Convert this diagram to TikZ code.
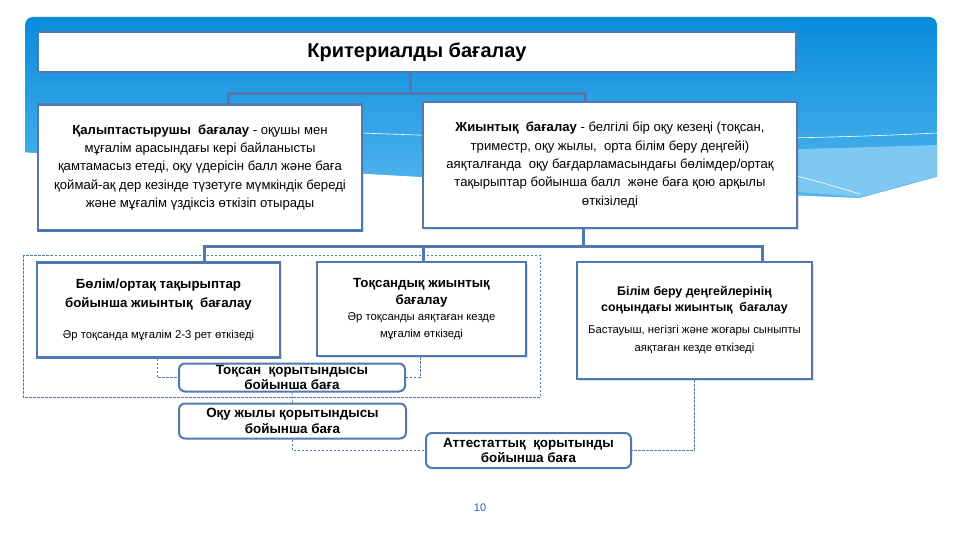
\documentclass[tikz,border=0pt]{standalone}
\usepackage{fontspec}
\setmainfont{Liberation Sans}
\usetikzlibrary{positioning,calc,shadows}

\definecolor{boxline}{RGB}{79,121,176}
\definecolor{skytop}{RGB}{8,140,220}
\definecolor{skylow}{RGB}{84,182,238}
\definecolor{pagenum}{RGB}{40,90,170}

% one line of a box heading / of the small note under it
\newcommand{\headline}[2][13.3]{{\fontsize{#1}{15}\selectfont\bfseries #2}}
\newcommand{\noteline}[1]{{\fontsize{11.3}{13}\selectfont #1}}

\begin{document}
\begin{tikzpicture}[
  x=1pt, y=-1pt,
  % plain rectangles with blue border
  card/.style={
    draw=boxline, fill=white, line width=2.4pt, align=center,
    inner sep=0pt, drop shadow={opacity=0.25, shadow xshift=1.5pt, shadow yshift=-1.5pt}
  },
  % rounded result boxes
  result/.style={
    draw=boxline, fill=white, line width=2pt, rounded corners=6pt,
    align=center, inner sep=0pt,
    font=\fontsize{13.4}{15.5}\selectfont\bfseries
  },
  bodytext/.style={font=\fontsize{13.1}{18.3}\selectfont},
  conn/.style={draw=boxline, line width=3pt},
  link/.style={draw=boxline, line width=0.7pt, dash pattern=on 2.5pt off 1.5pt},
]

\useasboundingbox (0,0) rectangle (960,540);

% ---------------------------------------------------------------
% Sky banner behind the upper part
% ---------------------------------------------------------------
\shade[top color=skytop, bottom color=skylow, rounded corners=8pt]
  (25,200) -- (25,17) -- (937,17) -- (937,200) -- cycle;
\fill[white!25!skylow]
  (420,165) .. controls (600,178) and (780,190) .. (860,197)
  -- (937,176) -- (937,145) .. controls (800,150) and (600,152) .. (420,165);
\fill[white]
  (20,152) .. controls (300,172) and (650,190) .. (860,198)
  -- (940,176) -- (940,205) -- (20,205) -- cycle;
\draw[white, line width=0.6pt]
  (360,133) .. controls (600,142) and (800,140) .. (937,133);
\draw[white, line width=0.6pt]
  (780,172) .. controls (815,180) and (840,188) .. (860,194);

% ---------------------------------------------------------------
% Dashed frame round the quarter boxes
% ---------------------------------------------------------------
\draw[link] (23,255) rectangle (540,397);

% ---------------------------------------------------------------
% Title and the two kinds of assessment
% ---------------------------------------------------------------
\node[card, minimum width=758pt, minimum height=40pt,
      font=\fontsize{20}{22}\selectfont\bfseries] (title) at (417,52)
  {Критериалды бағалау};

\node[card, bodytext, minimum width=324pt, minimum height=126pt] (form) at (200,167.5) {
  \textbf{Қалыптастырушы\ \ бағалау} - оқушы мен\\
  мұғалім арасындағы кері байланысты\\
  қамтамасыз етеді, оқу үдерісін балл және баға\\
  қоймай-ақ дер кезінде түзетуге мүмкіндік береді\\
  және мұғалім үздіксіз өткізіп отырады
};

\node[card, bodytext, minimum width=374pt, minimum height=126pt] (summ) at (610,165) {
  \textbf{Жиынтық\ \ бағалау} - белгілі бір оқу кезеңі (тоқсан,\\
  триместр, оқу жылы,\ \ орта білім беру деңгейі)\\
  аяқталғанда\ \ оқу бағдарламасындағы бөлімдер/ортақ\\
  тақырыптар бойынша балл\ \ және баға қою арқылы\\
  өткізіледі
};

% ---------------------------------------------------------------
% Kinds of summative assessment
% ---------------------------------------------------------------
\node[card, font=\fontsize{12}{19}\selectfont,
      minimum width=243pt, minimum height=95pt] (bolim) at (158.5,310) {
  \headline{Бөлім/ортақ тақырыптар}\\
  \headline{бойынша жиынтық\ \ бағалау}\\[12pt]
  \noteline{Әр тоқсанда мұғалім 2-3 рет өткізеді}
};

\node[card, font=\fontsize{12}{16.7}\selectfont,
      minimum width=209pt, minimum height=94pt] (toqs) at (421.5,309) {
  \headline{Тоқсандық жиынтық}\\
  \headline{бағалау}\\
  \noteline{Әр тоқсанды аяқтаған кезде}\\
  \noteline{мұғалім өткізеді}
};

\node[card, font=\fontsize{12}{16}\selectfont,
      minimum width=235pt, minimum height=117pt] (bilim) at (694.5,320.5) {
  \headline[12.4]{Білім беру деңгейлерінің}\\
  \headline[12.4]{соңындағы жиынтық\ \ бағалау}\\[6pt]
  \noteline{Бастауыш, негізгі және жоғары сыныпты}\\[2pt]
  \noteline{аяқтаған кезде өткізеді}
};

% ---------------------------------------------------------------
% Resulting marks
% ---------------------------------------------------------------
\node[result, minimum width=226pt, minimum height=28pt] (qor1) at (292,377.5)
  {Тоқсан\ \ қорытындысы\\ бойынша баға};
\node[result, minimum width=227pt, minimum height=35pt] (qor2) at (292.5,421)
  {Оқу жылы қорытындысы\\ бойынша баға};
\node[result, minimum width=205pt, minimum height=35pt] (att) at (528.5,450.5)
  {Аттестаттық\ \ қорытынды\\ бойынша баға};

% ---------------------------------------------------------------
% Tree connectors
% ---------------------------------------------------------------
\coordinate (fork1) at ($([xshift=-7pt]title.south)+(0,20)$);
\draw[conn] ([xshift=-7pt]title.south) -- (fork1);
\draw[conn] ([xshift=28pt]form.north) |- (fork1) -| ([xshift=-25pt]summ.north);

\coordinate (fork2) at ($([xshift=-27pt]summ.south)+(0,17)$);
\draw[conn] ([xshift=-27pt]summ.south) -- (fork2);
\draw[conn] ([xshift=46pt]bolim.north) |- (fork2) -| ([xshift=67.5pt]bilim.north);
\draw[conn] ([xshift=1.5pt]toqs.north) -- ([xshift=1.5pt]toqs.north |- fork2);

% dashed links to the marks
\draw[link] ([xshift=-1.5pt]bolim.south) |- (qor1.west);
\draw[link] ([xshift=-1.5pt]toqs.south) |- (qor1.east);
\draw[link] (qor1.south) -- (qor2.north);
\draw[link] (qor2.south) |- (att.west);
\draw[link] (bilim.south) |- (att.east);

% page number
\node[text=pagenum, font=\fontsize{11}{12}\selectfont] (page) at (480,508) {10};

\end{tikzpicture}
\end{document}
